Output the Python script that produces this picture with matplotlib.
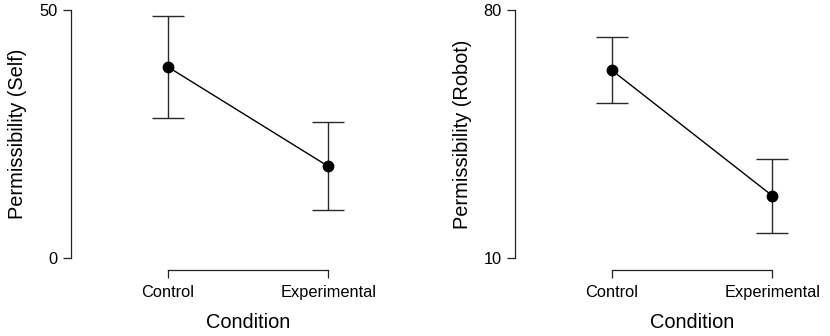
import matplotlib
matplotlib.use("Agg")
import matplotlib.pyplot as plt

plt.rcParams['font.family'] = ['Liberation Sans', 'DejaVu Sans']

categories = ["Control", "Experimental"]

self_means = [38.6, 18.5]
self_lower = [28.3, 9.6]
self_upper = [48.9, 27.4]

robot_means = [63.1, 27.6]
robot_lower = [53.7, 17.1]
robot_upper = [72.5, 38.0]

ylabels = ["Permissibility (Self)", "Permissibility (Robot)"]
yticks_list = [[0, 50], [10, 80]]
xlabel = "Condition"

W, H = 830, 336
fig = plt.figure(figsize=(W / 100, H / 100), dpi=100)

panels = [
    (self_means, self_lower, self_upper, ylabels[0], yticks_list[0], 71),
    (robot_means, robot_lower, robot_upper, ylabels[1], yticks_list[1], 515),
]

cat_px = 160.6          # pixels between categories
x_left = -0.602         # data x of the y spine
x_right = 1.3
top_px, bot_px = 10.3, 258.0

for means, lo, hi, ylab, yt, spine_px in panels:
    width_px = (x_right - x_left) * cat_px
    ax = fig.add_axes([spine_px / W, (H - bot_px) / H, width_px / W, (bot_px - top_px) / H])
    xs = list(range(len(categories)))
    yerr = [[m - l for m, l in zip(means, lo)], [h - m for m, h in zip(means, hi)]]
    ax.errorbar(xs, means, yerr=yerr, fmt='none', ecolor='#2a2a2a', elinewidth=1.0,
                capsize=11.5, capthick=1.0, zorder=2)
    ax.plot(xs, means, color='black', lw=1.0, zorder=3)
    ax.plot(xs, means, 'o', color='black', ms=7.5, zorder=4)

    ax.set_xlim(x_left, x_right)
    ax.set_ylim(yt[0], yt[-1])
    ax.set_yticks(yt)
    ax.set_xticks(xs)
    ax.set_xticklabels(categories)

    for s in ['top', 'right']:
        ax.spines[s].set_visible(False)
    ax.spines['left'].set_bounds(yt[0], yt[-1])
    ax.spines['bottom'].set_bounds(0, len(categories) - 1)
    ax.spines['bottom'].set_position(('outward', 12 * 72 / 100))
    for s in ['left', 'bottom']:
        ax.spines[s].set_linewidth(0.9)
        ax.spines[s].set_color('#222222')

    ax.tick_params(axis='both', direction='out', length=5.8, width=0.9, color='#222222',
                   labelsize=11.8, pad=4)
    ax.tick_params(axis='x', pad=5)
    ax.patch.set_visible(False)

    ax.set_ylabel(ylab, fontsize=14.4, va='center')
    ax.yaxis.set_label_coords(-53 / width_px, 0.5)
    ax.set_xlabel(xlabel, fontsize=14.4)
    ax.xaxis.set_label_coords((0.5 - x_left) / (x_right - x_left), -(323 - bot_px) / (bot_px - top_px))
    ax.xaxis.label.set_va('center')

fig.savefig("out.png", dpi=100)
